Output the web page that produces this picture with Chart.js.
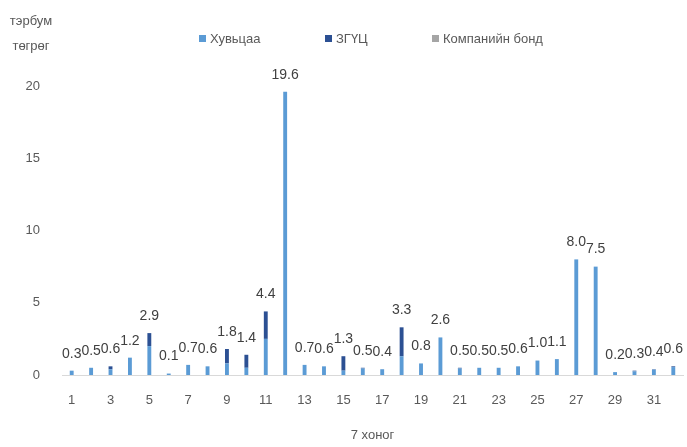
<!DOCTYPE html>
<html>
<head>
<meta charset="utf-8">
<script src="https://cdn.jsdelivr.net/npm/chart.js@4"></script>
<style>
  html, body { margin: 0; padding: 0; background: #fff; }
  #wrap { width: 687px; height: 447px; }
</style>
</head>
<body>
<div id="wrap"><canvas id="chart"></canvas></div>
<script>
const weeks = ['1','2','3','4','5','6','7','8','9','10','11','12','13','14','15','16',
  '17','18','19','20','21','22','23','24','25','26','27','28','29','30','31','32'];

// тэрбум төгрөг
const stocks = [0.3, 0.5, 0.4, 1.2, 2.0, 0.1, 0.7, 0.6, 0.8, 0.5, 2.5, 19.6, 0.7, 0.6, 0.3, 0.45,
  0.4, 1.3, 0.8, 2.6, 0.45, 0.5, 0.5, 0.6, 1.0, 1.1, 8.0, 7.5, 0.2, 0.25, 0.37, 0.55];
const govBonds = [0, 0, 0.2, 0, 0.9, 0, 0, 0, 1.0, 0.9, 1.9, 0, 0, 0, 1.0, 0.05,
  0, 2.0, 0, 0, 0.05, 0, 0, 0, 0, 0, 0, 0, 0, 0.05, 0.03, 0.05];
const corpBonds = [0, 0, 0, 0, 0, 0, 0, 0, 0, 0, 0, 0, 0, 0, 0, 0,
  0, 0, 0, 0, 0, 0, 0, 0, 0, 0, 0, 0, 0, 0, 0, 0];

const yTicks = [0, 5, 10, 15, 20];

const FONT = "'Liberation Sans', Arial, sans-serif";

// total above each stack
const totalLabels = {
  id: 'totalLabels',
  afterDatasetsDraw(chart) {
    const ctx = chart.ctx;
    const y = chart.scales.y;
    const meta = chart.getDatasetMeta(0);
    ctx.save();
    ctx.font = '14px ' + FONT;
    ctx.fillStyle = '#404040';
    ctx.textAlign = 'center';
    ctx.textBaseline = 'bottom';
    weeks.forEach((w, i) => {
      const total = stocks[i] + govBonds[i] + corpBonds[i];
      const x = meta.data[i].x;
      ctx.fillText(total.toFixed(1), x, y.getPixelForValue(total) - 10);
    });
    ctx.restore();
  }
};

// unit caption + legend at the top
const headerText = {
  id: 'headerText',
  afterDraw(chart) {
    const ctx = chart.ctx;
    ctx.save();
    ctx.font = '13px ' + FONT;
    ctx.fillStyle = '#595959';
    ctx.textAlign = 'center';
    ctx.textBaseline = 'middle';
    ctx.fillText('тэрбум', 31, 21);
    ctx.fillText('төгрөг', 31, 46);

    const boxX = [199, 325, 432];
    ctx.textAlign = 'left';
    chart.data.datasets.forEach((ds, i) => {
      ctx.fillStyle = ds.backgroundColor;
      ctx.fillRect(boxX[i], 35, 7, 7);
      ctx.fillStyle = '#595959';
      ctx.fillText(ds.label, boxX[i] + 11, 39);
    });
    ctx.restore();
  }
};

new Chart(document.getElementById('chart'), {
  type: 'bar',
  data: {
    labels: weeks,
    datasets: [
      { label: 'Хувьцаа', data: stocks, backgroundColor: '#5B9BD5' },
      { label: 'ЗГҮЦ', data: govBonds, backgroundColor: '#2C5093' },
      { label: 'Компанийн бонд', data: corpBonds, backgroundColor: '#A5A5A5' }
    ]
  },
  options: {
    responsive: true,
    maintainAspectRatio: false,
    animation: false,
    layout: { padding: { top: 86, right: 4, left: 0, bottom: 0 } },
    datasets: { bar: { barPercentage: 0.2, categoryPercentage: 1.0 } },
    plugins: {
      legend: { display: false },
      tooltip: { enabled: false }
    },
    scales: {
      x: {
        stacked: true,
        grid: { display: false },
        border: { display: true, color: '#D9D9D9' },
        ticks: {
          autoSkip: false, maxRotation: 0, padding: 10,
          color: '#595959',
          font: { family: FONT, size: 13 },
          callback: (v, i) => (i % 2 === 0 ? weeks[i] : '')
        },
        title: {
          display: true, text: '7 хоног', color: '#595959',
          font: { family: FONT, size: 13 }, padding: { top: 25 }
        },
        afterFit: s => { s.height = 72; }
      },
      y: {
        stacked: true,
        min: 0, max: 20,
        grid: { display: false },
        border: { display: false },
        afterBuildTicks: s => { s.ticks = yTicks.map(v => ({ value: v })); },
        ticks: {
          padding: 14,
          color: '#595959',
          font: { family: FONT, size: 13 }
        },
        afterFit: s => { s.width = 62; }
      }
    }
  },
  plugins: [totalLabels, headerText]
});
</script>
</body>
</html>
